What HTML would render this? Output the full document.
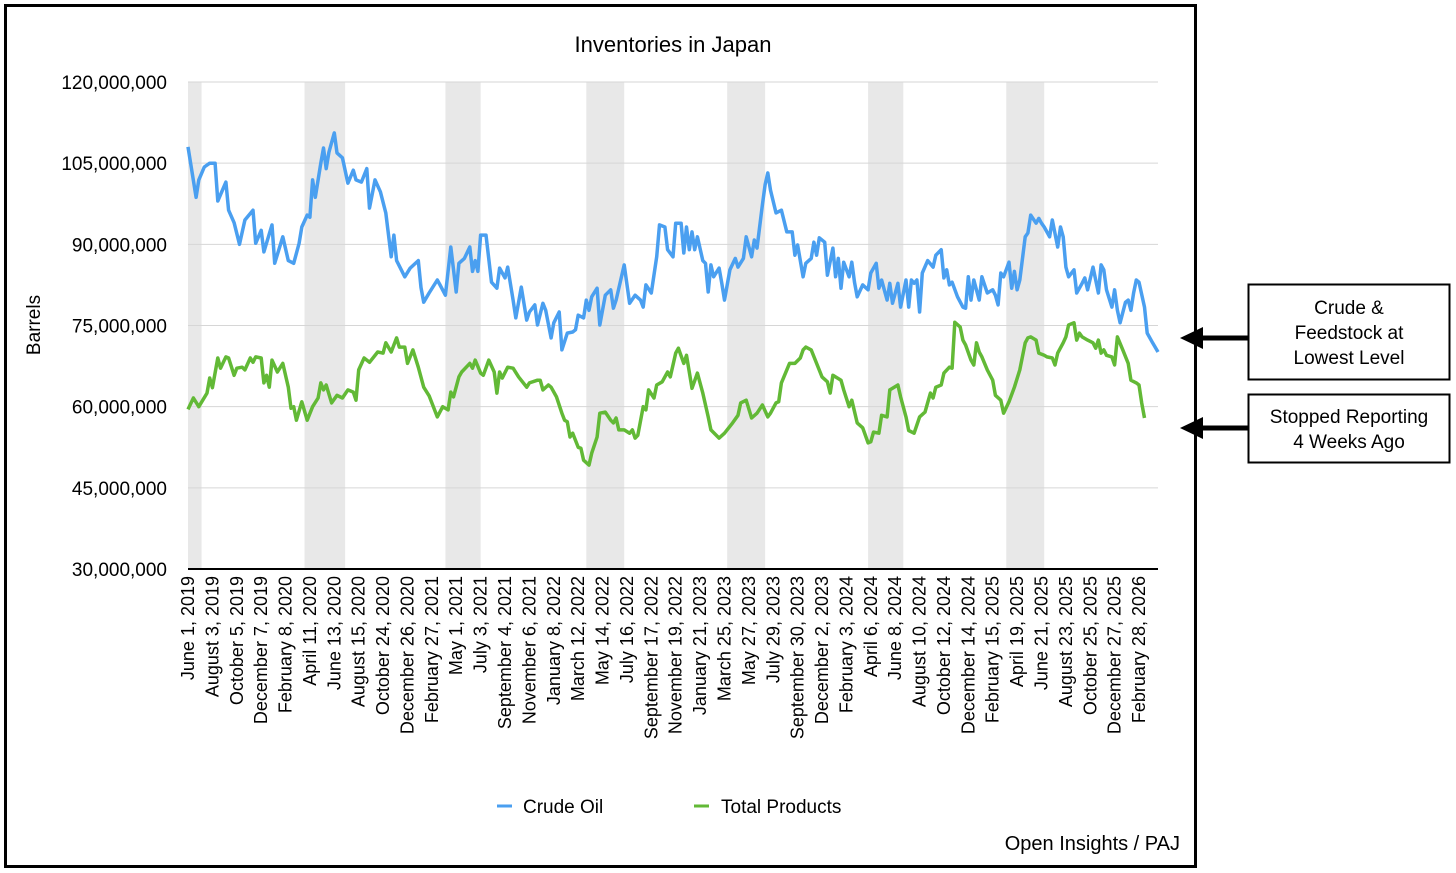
<!DOCTYPE html>
<html><head><meta charset="utf-8"><style>
body{margin:0;background:#fff;}
svg{display:block;font-family:"Liberation Sans",Arial,sans-serif;}
</style></head><body>
<svg id="chart" width="1456" height="873" viewBox="0 0 1456 873" xmlns="http://www.w3.org/2000/svg">
<rect x="5.5" y="5.5" width="1190" height="861" fill="none" stroke="#000" stroke-width="3"/>
<text x="673" y="52" font-size="22" text-anchor="middle">Inventories in Japan</text>
<text transform="translate(40,325) rotate(-90)" font-size="19" text-anchor="middle">Barrels</text>
<g id="bands"></g>
<g id="grid"></g>
<g id="ylabels"></g>
<g id="xlabels"></g>
<g id="series"></g>
<g>
<g><line x1="497" y1="806" x2="512" y2="806" stroke="#4a9ff0" stroke-width="3"/><text x="523" y="813" font-size="19">Crude Oil</text></g>
<g><line x1="694" y1="806" x2="709" y2="806" stroke="#62b936" stroke-width="3"/><text x="721" y="813" font-size="19">Total Products</text></g>
</g>
<text x="1180" y="850" font-size="20" text-anchor="end">Open Insights / PAJ</text>
<g>
<rect x="1248.5" y="284.5" width="201" height="95" fill="#fff" stroke="#000" stroke-width="2"/>
<text x="1349" y="314" font-size="19" text-anchor="middle">Crude &amp;</text>
<text x="1349" y="339" font-size="19" text-anchor="middle">Feedstock at</text>
<text x="1349" y="364" font-size="19" text-anchor="middle">Lowest Level</text>
<line x1="1248" y1="338" x2="1200" y2="338" stroke="#000" stroke-width="5"/>
<polygon points="1180,338 1203,327 1203,349" fill="#000"/>
</g>
<g>
<rect x="1248.5" y="394.5" width="201" height="68" fill="#fff" stroke="#000" stroke-width="2"/>
<text x="1349" y="423" font-size="19" text-anchor="middle">Stopped Reporting</text>
<text x="1349" y="448" font-size="19" text-anchor="middle">4 Weeks Ago</text>
<line x1="1248" y1="428" x2="1200" y2="428" stroke="#000" stroke-width="5"/>
<polygon points="1180,428 1203,417 1203,439" fill="#000"/>
</g>
</svg>
<script>
const xLabels=["June 1, 2019","August 3, 2019","October 5, 2019","December 7, 2019","February 8, 2020","April 11, 2020","June 13, 2020","August 15, 2020","October 24, 2020","December 26, 2020","February 27, 2021","May 1, 2021","July 3, 2021","September 4, 2021","November 6, 2021","January 8, 2022","March 12, 2022","May 14, 2022","July 16, 2022","September 17, 2022","November 19, 2022","January 21, 2023","March 25, 2023","May 27, 2023","July 29, 2023","September 30, 2023","December 2, 2023","February 3, 2024","April 6, 2024","June 8, 2024","August 10, 2024","October 12, 2024","December 14, 2024","February 15, 2025","April 19, 2025","June 21, 2025","August 23, 2025","October 25, 2025","December 27, 2025","February 28, 2026"];
const yTicks=[30,45,60,75,90,105,120];
const bandStarts=[0,43,95,147,199,251,302];
const bandEnds=[5,58,108,161,213,264,316];
const crudeWeeks=[0,3,4,6,8,10,11,14,15,17,19,21,24,25,27,28,31,32,35,37,39,41,42,44,45,46,47,49,50,51,52,54,55,57,59,61,62,64,66,67,69,71,73,75,76,77,80,82,85,86,87,89,92,93,95,97,99,100,102,104,105,106,107,108,110,112,114,115,117,118,120,121,123,125,126,128,129,131,132,134,135,137,138,140,142,143,144,146,147,148,149,151,152,154,156,157,158,161,163,165,167,168,169,171,173,174,176,177,179,180,182,183,184,185,186,187,188,190,191,192,193,194,196,197,198,200,202,203,205,206,208,209,210,212,213,214,215,217,219,221,223,224,225,227,228,230,231,232,233,235,236,238,239,240,241,242,244,245,246,247,249,251,252,254,255,256,258,259,260,262,263,265,266,267,268,269,270,271,273,275,276,278,279,280,281,282,284,286,287,288,289,290,292,293,294,295,297,298,299,300,301,303,304,305,306,307,309,310,311,313,314,315,316,317,318,319,321,322,323,324,325,327,328,329,330,331,332,334,335,336,337,338,339,341,342,343,344,346,347,348,349,350,351,353,354,356,358];
const crudeVals=[108,98.7,101.9,104.3,105,105,98,101.5,96.3,94,90,94.5,96.3,90.2,92.6,88.6,93.6,86.5,91.4,87,86.5,90.2,93.2,95.4,95,101.9,98.7,105,107.8,104,107,110.6,106.9,106,101.3,103.7,101.9,101.5,104,96.7,101.9,99.7,95.8,87.7,91.7,87,84,85.6,87,82,79.3,81,83.4,82.5,80.6,89.5,81.2,86.5,87.4,89.5,85,87,85,91.7,91.7,83,81.9,85.6,83.8,85.8,79.7,76.4,82.1,76,77.5,78.8,75.1,79.1,77.8,72.7,75.5,77.5,70.5,73.6,73.8,74.2,76.9,76.4,79.7,77.8,80.3,81.9,75.1,80.6,81.6,78.2,79.7,86.2,79.1,80.6,79.7,78.4,82.5,81,87.7,93.6,93.2,89,87.7,93.9,93.9,88.4,93.2,89,92.3,89,91.4,87,86.5,81.2,86.2,84,85.6,82.8,79.7,85.3,87.4,85.8,87.4,91.4,87.7,90.8,89.3,97.3,101,103.2,100,95.8,96.3,92.3,92.3,88,89.9,84,86.5,87.4,90.4,88,91.2,90.4,84.3,89.3,84,87.4,81.9,86.7,84,86.7,83,80.3,82.5,81.6,84.7,86.5,81.9,83.4,79.7,82.8,79.1,82.8,78.4,83.4,78.4,83.4,82.8,83.4,77.5,84.7,87,85.8,88,89,83.8,85.3,82.5,83,80.3,78.4,78.2,84,79.7,83.4,79.7,84,82.5,81,81.6,80.6,78.8,84.7,84,86.7,81.9,85,81.6,83.4,91.4,92.1,95.4,93.9,94.8,93.9,93.2,92.3,91.4,94.5,89.5,93.2,91.4,85.8,84,85.3,81,81.9,82.8,83.8,81.6,85.8,83.4,81,86.2,85.3,81.6,78.4,81.6,77.8,75.5,79.3,79.7,77.8,81,83.4,83,78.4,73.6,71.8,70.1];
const prodWeeks=[0,2,4,7,8,9,11,12,14,15,17,18,20,21,23,24,25,27,28,29,30,31,33,35,37,38,39,40,42,44,46,48,49,50,51,53,55,57,59,61,62,63,65,67,70,72,73,75,77,78,80,81,83,85,87,89,92,94,96,97,98,100,101,104,105,106,108,109,111,113,114,115,116,118,120,122,125,126,129,130,131,133,134,136,138,139,140,141,142,144,145,146,148,149,151,152,154,156,157,158,159,161,163,164,165,166,168,169,170,172,173,175,177,178,180,181,183,184,186,188,190,192,193,196,198,201,203,204,206,208,210,212,214,215,217,218,219,221,222,224,226,227,228,230,232,234,236,237,238,241,242,244,245,247,249,251,252,253,255,256,258,259,262,263,265,266,268,270,272,274,275,276,278,279,281,282,283,285,286,287,289,290,291,292,293,295,297,298,300,301,303,305,307,309,310,311,313,314,316,317,319,320,321,323,324,325,327,328,329,330,332,334,335,336,337,338,339,341,342,343,345,347,348,350,351,352,353];
const prodVals=[59.5,61.6,60,62.5,65.3,63.5,69,67.1,69.2,69,65.8,67.1,67.3,66.8,69,68.2,69.2,69,64.4,65.8,63.6,68.6,66.4,68,63.6,59.7,60,57.5,60.9,57.5,60,61.6,64.4,63.1,64,60.7,62.1,61.6,63.1,62.7,61.2,66.8,69,68.2,70.1,69.9,71.8,70.1,72.7,71,71,68,70.5,67.3,63.6,62,58.1,60,59.4,62.7,61.8,65.5,66.4,68,67.1,68.6,66.2,65.8,68.6,66.4,62.5,66.4,65.3,67.3,67.1,65.5,63.6,64.4,64.9,64.9,63.1,64,63.6,61.8,58.8,57.5,57.2,54.4,55.1,52.5,52.3,50.1,49.2,51.4,54.4,58.8,59,57.5,57,57.9,55.7,55.7,55.1,55.7,54.2,54.7,60,59.4,63.1,61.6,64,64.6,66.4,65.5,69.9,70.8,68,69.5,63.4,66.2,62.5,58.1,55.7,54.2,55.1,57,58.4,60.7,61.2,57.9,58.8,60.3,58.1,58.8,60.7,60.9,64.4,66.8,68,68,69,70.5,71,70.5,68,65.5,64.6,62.5,65.8,64.9,63.1,60,61.2,57,56.1,53.3,53.5,55.3,55.1,58.4,58.1,63.1,64,61.8,58.1,55.6,55.1,58.1,59,62.5,61.6,63.6,64,66.2,67.3,67.1,75.6,74.7,72.3,71.4,68.6,67.7,71.8,70.1,69.2,66.8,64.9,62.1,61.2,58.8,60.9,63.6,66.8,71.8,72.7,72.9,72.3,69.9,69.5,69.2,69,67.7,69.9,71.8,72.9,75.1,75.5,72.3,73.6,72.9,72.3,71.8,70.8,72.3,69.9,70.5,69.5,69.2,67.7,72.9,70.5,68,64.9,64.4,64,60.7,57.9];
const NS="http://www.w3.org/2000/svg";
const X0=188,X1=1158,WMAX=358,Y0=569,Y1=82,VMIN=30,VMAX=120;
function xs(w){return X0+(w/WMAX)*(X1-X0);}
function ys(v){return Y0-(v-VMIN)/(VMAX-VMIN)*(Y0-Y1);}
function mk(tag,attrs,parent){const e=document.createElementNS(NS,tag);for(const k in attrs)e.setAttribute(k,attrs[k]);parent.appendChild(e);return e;}
const bands=document.getElementById('bands');
bandStarts.forEach((s,i)=>{const r=mk('rect',{x:xs(s),y:Y1,width:xs(bandEnds[i])-xs(s),height:Y0-Y1,fill:'#e8e8e8'},bands);

});
const grid=document.getElementById('grid'),yl=document.getElementById('ylabels');
yTicks.forEach(t=>{const l=mk('line',{x1:X0,x2:X1,y1:ys(t),y2:ys(t),stroke:t===VMIN?'#000':'#d6d6d6','stroke-width':t===VMIN?2:1},grid);


const tx=mk('text',{x:167,y:ys(t)+7,'font-size':19,'text-anchor':'end'},yl);tx.textContent=t.toLocaleString('en-US')+',000,000';

});
const xl=document.getElementById('xlabels');
xLabels.forEach((s,i)=>{const x=xs(i*9)+6;const t=mk('text',{transform:`translate(${x},576) rotate(-90)`,'font-size':18,'text-anchor':'end'},xl);t.textContent=s;

});
const ser=document.getElementById('series');
function line(ws,vs,color,name){const d=ws.map((w,i)=>(i?'L':'M')+xs(w).toFixed(1)+' '+ys(vs[i]).toFixed(1)).join(' ');
const p=mk('path',{d:d,fill:'none',stroke:color,'stroke-width':3.5,'stroke-linejoin':'round'},ser);

}
line(prodWeeks,prodVals,'#62b936','total-products-line');
line(crudeWeeks,crudeVals,'#4a9ff0','crude-oil-line');
</script>
</body></html>
